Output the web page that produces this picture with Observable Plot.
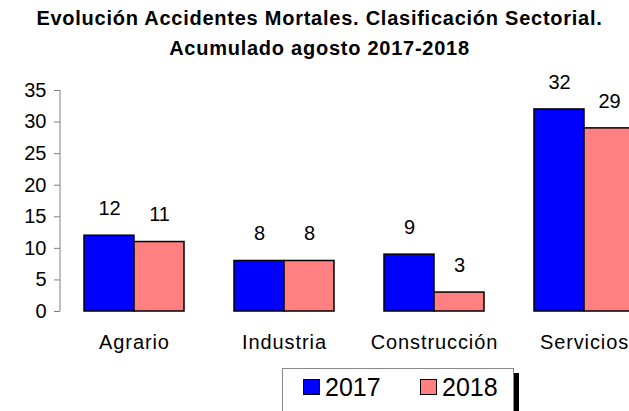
<!DOCTYPE html>
<html>
<head>
<meta charset="utf-8">
<script src="https://cdn.jsdelivr.net/npm/d3@7"></script>
<script src="https://cdn.jsdelivr.net/npm/@observablehq/plot@0.6"></script>
<style>
  html, body { margin: 0; padding: 0; background: #fff; overflow: hidden; width: 629px; height: 411px; }
  body { font-family: "Liberation Sans", Arial, sans-serif; position: relative; }
  #title { height: 68px; text-align: center; font-weight: bold; font-size: 20px; letter-spacing: 0.75px; line-height: 30px; padding-top: 3px; box-sizing: border-box; color: #000; padding-left: 10px; }
  #chart svg { display: block; overflow: visible; }
  #legend { position: absolute; left: 282px; top: 368px; width: 232px; height: 60px; border: 1px solid #888; box-sizing: border-box; background: #fff; }
  #shadow { position: absolute; left: 514px; top: 373px; width: 5px; height: 60px; background: #000; }
  .item { position: absolute; top: 3px; font-size: 25px; line-height: 30px; display: flex; align-items: center; }
  .sw { width: 17px; height: 16px; border: 1.5px solid #000; margin-right: 5px; box-sizing: border-box; }
  .cat text { letter-spacing: 0.9px; }
</style>
</head>
<body>
<div id="title">Evolución Accidentes Mortales. Clasificación Sectorial.<br>Acumulado agosto 2017-2018</div>
<div id="chart"></div>
<div id="shadow"></div>
<div id="legend"></div>
<script>
const categories = ["Agrario", "Industria", "Construcción", "Servicios"];
const years = ["2017", "2018"];
const values2017 = [12, 8, 9, 32];
const values2018 = [11, 8, 3, 29];
const yTicks = [0, 5, 10, 15, 20, 25, 30, 35];
const colors = ["#0000FF", "#FF8080"];

const d17 = categories.map((c, i) => ({category: c, value: values2017[i]}));
const d18 = categories.map((c, i) => ({category: c, value: values2018[i]}));

const chart = Plot.plot({
  width: 629,
  height: 292,
  marginLeft: 60,
  marginRight: 0,
  marginTop: 22,
  marginBottom: 49,
  style: {fontFamily: "Liberation Sans, Arial, sans-serif", fontSize: "20px", color: "#000", background: "#fff", overflow: "visible"},
  x: {domain: categories, range: [59, 659], padding: 0, label: null},
  y: {domain: [0, 35], label: null},
  marks: [
    Plot.axisY({ticks: yTicks, tickSize: 6, tickPadding: 8, fontSize: 20, stroke: "#808080", label: null}),
    Plot.ruleX([categories[0]], {x: d => d, dx: -74.5, y1: 0, y2: 35, stroke: "#808080", strokeWidth: 1}),
    Plot.axisX({tickSize: 0, tickPadding: 23, fontSize: 20, label: null, className: "cat"}),
    Plot.barY(d17, {x: "category", y: "value", fill: colors[0], stroke: "#000", strokeWidth: 1.5, insetLeft: 25, insetRight: 75}),
    Plot.barY(d18, {x: "category", y: "value", fill: colors[1], stroke: "#000", strokeWidth: 1.5, insetLeft: 75, insetRight: 25}),
    Plot.text(d17, {x: "category", y: "value", text: d => String(d.value), dx: -25, dy: -27, fontSize: 20, fill: "#000"}),
    Plot.text(d18, {x: "category", y: "value", text: d => String(d.value), dx: 25, dy: -27, fontSize: 20, fill: "#000"})
  ]
});
document.getElementById("chart").appendChild(chart);

const legend = document.getElementById("legend");
const lefts = [20, 137];
years.forEach((y, i) => {
  const it = document.createElement("div");
  it.className = "item";
  it.style.left = lefts[i] + "px";
  const sw = document.createElement("div");
  sw.className = "sw";
  sw.style.background = colors[i];
  it.appendChild(sw);
  const t = document.createElement("span");
  t.textContent = y;
  it.appendChild(t);
  legend.appendChild(it);
});
</script>
</body>
</html>
